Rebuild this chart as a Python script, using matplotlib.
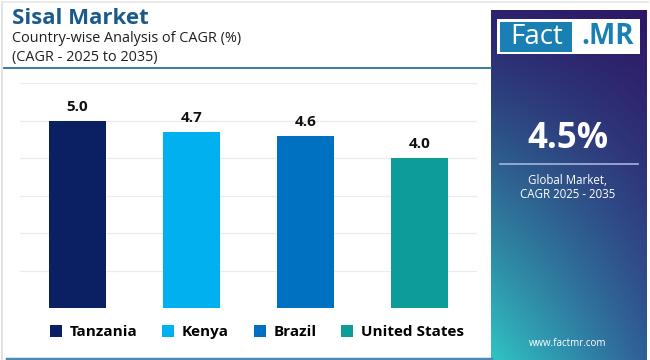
import numpy as np
import matplotlib
matplotlib.use("Agg")
import matplotlib.pyplot as plt
from matplotlib.patches import Rectangle, Patch
from matplotlib.lines import Line2D

countries = ["Tanzania", "Kenya", "Brazil", "United States"]
cagr = [5.0, 4.7, 4.6, 4.0]
colors = ["#0b2062", "#00b0ef", "#0070c0", "#0e9c98"]
global_cagr = "4.5%"

FONT = "Open Sans"
plt.rcParams["font.family"] = [FONT, "DejaVu Sans"]

W, H = 650, 360
fig = plt.figure(figsize=(W / 100, H / 100), dpi=100)
fig.patch.set_facecolor("white")

def fx(px):
    return px / W

def fy(py):
    return 1 - py / H

# outer light border
fig.add_artist(Line2D([fx(1.5), fx(1.5)], [fy(2), fy(360)], color="#dddddd", lw=1.2))
fig.add_artist(Line2D([fx(1.5), fx(648)], [fy(2), fy(2)], color="#e6e6e6", lw=1.2))

# Title
fig.text(fx(12), fy(18), "Sisal Market", fontsize=16, fontweight="bold", color="#1a5b8c", va="center", ha="left")
fig.text(fx(12), fy(38), "Country-wise Analysis of CAGR (%)", fontsize=10.4, color="#1f1f1f", va="center", ha="left")
fig.text(fx(12), fy(57), "(CAGR - 2025 to 2035)", fontsize=10.4, color="#1f1f1f", va="center", ha="left")
fig.add_artist(Line2D([fx(4), fx(491)], [fy(67.5), fy(67.5)], color="#2a6e9c", lw=1.3))
fig.add_artist(Line2D([fx(7), fx(491)], [fy(358.5), fy(358.5)], color="#4a88b8", lw=2.5))

# Bar axes
ax = fig.add_axes([fx(20), fy(308), fx(477) - fx(20), fy(83) - fy(308)])
x = np.arange(len(countries))
bars = ax.bar(x, cagr, width=0.5, color=colors, zorder=3)
ax.set_xlim(-0.5, len(countries) - 0.5)
ax.set_ylim(0, 6)
ax.set_yticks(np.arange(0, 7, 1))
ax.grid(axis="y", color="#ececec", lw=0.9, zorder=0)
ax.tick_params(left=False, bottom=False, labelleft=False, labelbottom=False)
for s in ax.spines.values():
    s.set_visible(False)
ax.set_facecolor("none")
for b, v in zip(bars, cagr):
    ax.annotate(f"{v:.1f}", (b.get_x() + b.get_width() / 2, v), xytext=(0, 5),
                textcoords="offset points", ha="center", va="bottom",
                fontsize=11, fontweight="bold", color="#111111")

handles = [Patch(facecolor=c, edgecolor="none") for c in colors]
leg = fig.legend(handles, countries, loc="center", bbox_to_anchor=(fx(257), fy(332)),
                 ncol=4, frameon=False, handlelength=0.8, handleheight=0.8,
                 handletextpad=0.5, columnspacing=1.6,
                 prop={"family": [FONT, "DejaVu Sans"], "weight": "bold", "size": 11})

# Right panel with gradient
pax = fig.add_axes([fx(491), 0, fx(647) - fx(491), fy(10)])
ny, nx = 200, 100
yy, xx = np.mgrid[0:1:ny * 1j, 0:1:nx * 1j]
tl = np.array([0x2c, 0x22, 0x6e]) / 255
tr = np.array([0x2e, 0x18, 0x66]) / 255
bl = np.array([0x30, 0xc4, 0xc4]) / 255
br = np.array([0x30, 0x5e, 0x96]) / 255
ty = yy ** 1.15
tx = xx[..., None]
ty = ty[..., None]
img = (1 - ty) * ((1 - tx) * tl + tx * tr) + ty * ((1 - tx) * bl + tx * br)
pax.imshow(img, aspect="auto", extent=[0, 1, 1, 0])
pax.set_xlim(0, 1)
pax.set_ylim(1, 0)
pax.axis("off")

# logo
fig.add_artist(Rectangle((fx(497), fy(54)), fx(640) - fx(497), fy(19) - fy(54), facecolor="white", edgecolor="none"))
fig.add_artist(Rectangle((fx(500), fy(51.5)), fx(572) - fx(500), fy(21.5) - fy(51.5), facecolor="#1a7fb3", edgecolor="none"))
fig.text(fx(537), fy(37), "Fact", fontsize=20, color="white", ha="center", va="center")
fig.text(fx(608), fy(37), ".MR", fontsize=20, color="#1a7fb3", fontweight="bold", ha="center", va="center")

fig.text(fx(568), fy(139), global_cagr, fontsize=25, fontweight="bold", color="white", ha="center", va="center")
fig.add_artist(Line2D([fx(500), fx(638)], [fy(164.5), fy(164.5)], color="#a8b4dc", lw=1.2))
fig.text(fx(568), fy(180), "Global Market,", fontsize=8.3, color="white", ha="center", va="center")
fig.text(fx(568), fy(194), "CAGR 2025 - 2035", fontsize=8.3, color="white", ha="center", va="center")
fig.text(fx(568), fy(344), "www.factmr.com", fontsize=7, color="white", ha="center", va="center")

fig.savefig("out.png", dpi=100)
